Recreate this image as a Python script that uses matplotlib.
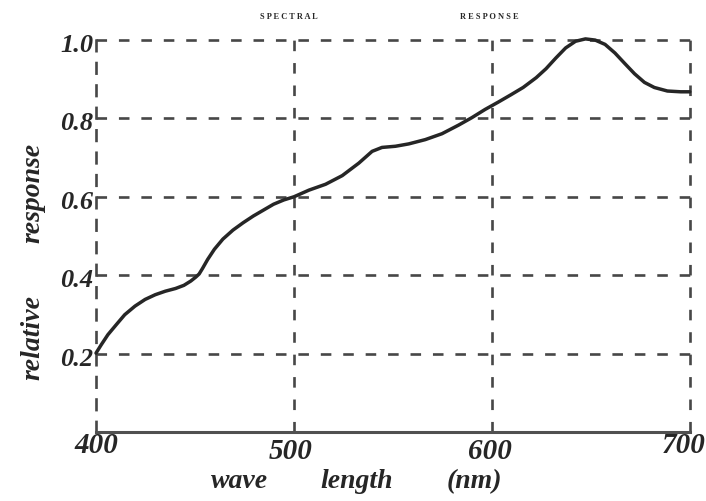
import matplotlib
matplotlib.use("Agg")
import matplotlib.pyplot as plt
from matplotlib.transforms import ScaledTranslation

wavelength = [400.0, 402.6, 406.0, 410.3, 414.5, 419.7, 424.8, 429.9, 435.0, 440.2,
              444.4, 447.9, 450.4, 452.1, 453.8, 456.4, 459.8, 464.1, 469.2, 474.4,
              479.5, 484.6, 489.7, 494.9, 500.0, 507.6, 516.0, 524.4, 532.8, 539.5,
              544.5, 551.3, 558.0, 566.4, 574.8, 583.2, 589.9, 596.6, 603.0, 609.5,
              615.8, 622.4, 627.4, 632.3, 637.3, 642.3, 647.3, 652.2, 657.2, 662.2,
              667.2, 672.1, 677.1, 682.1, 688.7, 695.4, 700.0]
response = [0.201, 0.222, 0.248, 0.274, 0.299, 0.321, 0.338, 0.350, 0.359, 0.366,
            0.374, 0.385, 0.395, 0.403, 0.417, 0.440, 0.466, 0.492, 0.515, 0.534,
            0.551, 0.566, 0.581, 0.592, 0.600, 0.617, 0.632, 0.654, 0.686, 0.716,
            0.726, 0.729, 0.735, 0.746, 0.761, 0.783, 0.802, 0.823, 0.841, 0.860,
            0.879, 0.904, 0.927, 0.954, 0.980, 0.997, 1.003, 1.000, 0.989, 0.967,
            0.940, 0.914, 0.892, 0.879, 0.870, 0.868, 0.868]
xticks = [400, 500, 600, 700]
xtick_labels = ["400", "500", "600", "700"]
yticks = [0.2, 0.4, 0.6, 0.8, 1.0]
ytick_labels = ["0.2", "0.4", "0.6", "0.8", "1.0"]
xlabel_words = ["wave", "length", "(nm)"]
ylabel_words = ["relative", "response"]
title_words = ["S P E C T R A L", "R E S P O N S E"]

ink = "#262626"
grid_c = "#474747"

fig = plt.figure(figsize=(7.06, 5.01), dpi=100)
ax = fig.add_axes([0.136, 0.138, 0.841, 0.782])
ax.set_xlim(400, 700)
ax.set_ylim(0, 1.0)

dash = (0, (4, 4.5))
for yv in yticks:
    ax.plot([400, 700], [yv, yv], color=grid_c, lw=1.9, ls=dash, zorder=1, clip_on=False)
for xv in xticks[1:]:
    ax.plot([xv, xv], [0, 1.0], color=grid_c, lw=1.9, ls=dash, zorder=1, clip_on=False)

ax.plot(wavelength, response, color=ink, lw=2.5, zorder=3, clip_on=False,
        solid_capstyle="round", solid_joinstyle="round")

for s in ["top", "right"]:
    ax.spines[s].set_visible(False)
ax.spines["left"].set_linestyle(dash)
ax.spines["left"].set_color(grid_c)
ax.spines["left"].set_linewidth(1.9)
ax.spines["bottom"].set_color("#505050")
ax.spines["bottom"].set_linewidth(2.2)

font = dict(family="Liberation Serif", style="italic", weight="bold")
ax.set_xticks(xticks)
ax.set_xticklabels(xtick_labels, fontdict=dict(size=21, **font), color=ink)
ax.set_yticks(yticks)
ax.set_yticklabels(ytick_labels, fontdict=dict(size=19, **font), color=ink)
ax.tick_params(length=0)
ax.tick_params(axis="x", pad=0)
ax.tick_params(axis="y", pad=2)

# per-label nudges to follow the printed layout
x_offsets = [(0, 0), (-3, -6), (-2, -6), (-6, 0)]
for lab, (dx, dy) in zip(ax.get_xticklabels(), x_offsets):
    lab.set_transform(lab.get_transform() + ScaledTranslation(dx / 100, dy / 100, fig.dpi_scale_trans))
for lab in ax.get_yticklabels():
    lab.set_transform(lab.get_transform() + ScaledTranslation(0, -3 / 100, fig.dpi_scale_trans))

# axis labels placed as in the scan
W, H = 706, 501
for word, cx in zip(xlabel_words, [240, 357, 474]):
    fig.text(cx / W, 1 - 482 / H, word, fontsize=20, color=ink, ha="center", va="center", **font)
for word, cy in zip(ylabel_words, [338, 193]):
    fig.text(33 / W, 1 - cy / H, word, fontsize=20, color=ink, ha="center", va="center",
             rotation=90, **font)

for word, cx in zip(title_words, [289, 489]):
    fig.text(cx / W, 1 - 17 / H, word, fontsize=6, weight="bold", family="Liberation Serif",
             color=ink, ha="center", va="center")

fig.savefig("out.png", dpi=100)
